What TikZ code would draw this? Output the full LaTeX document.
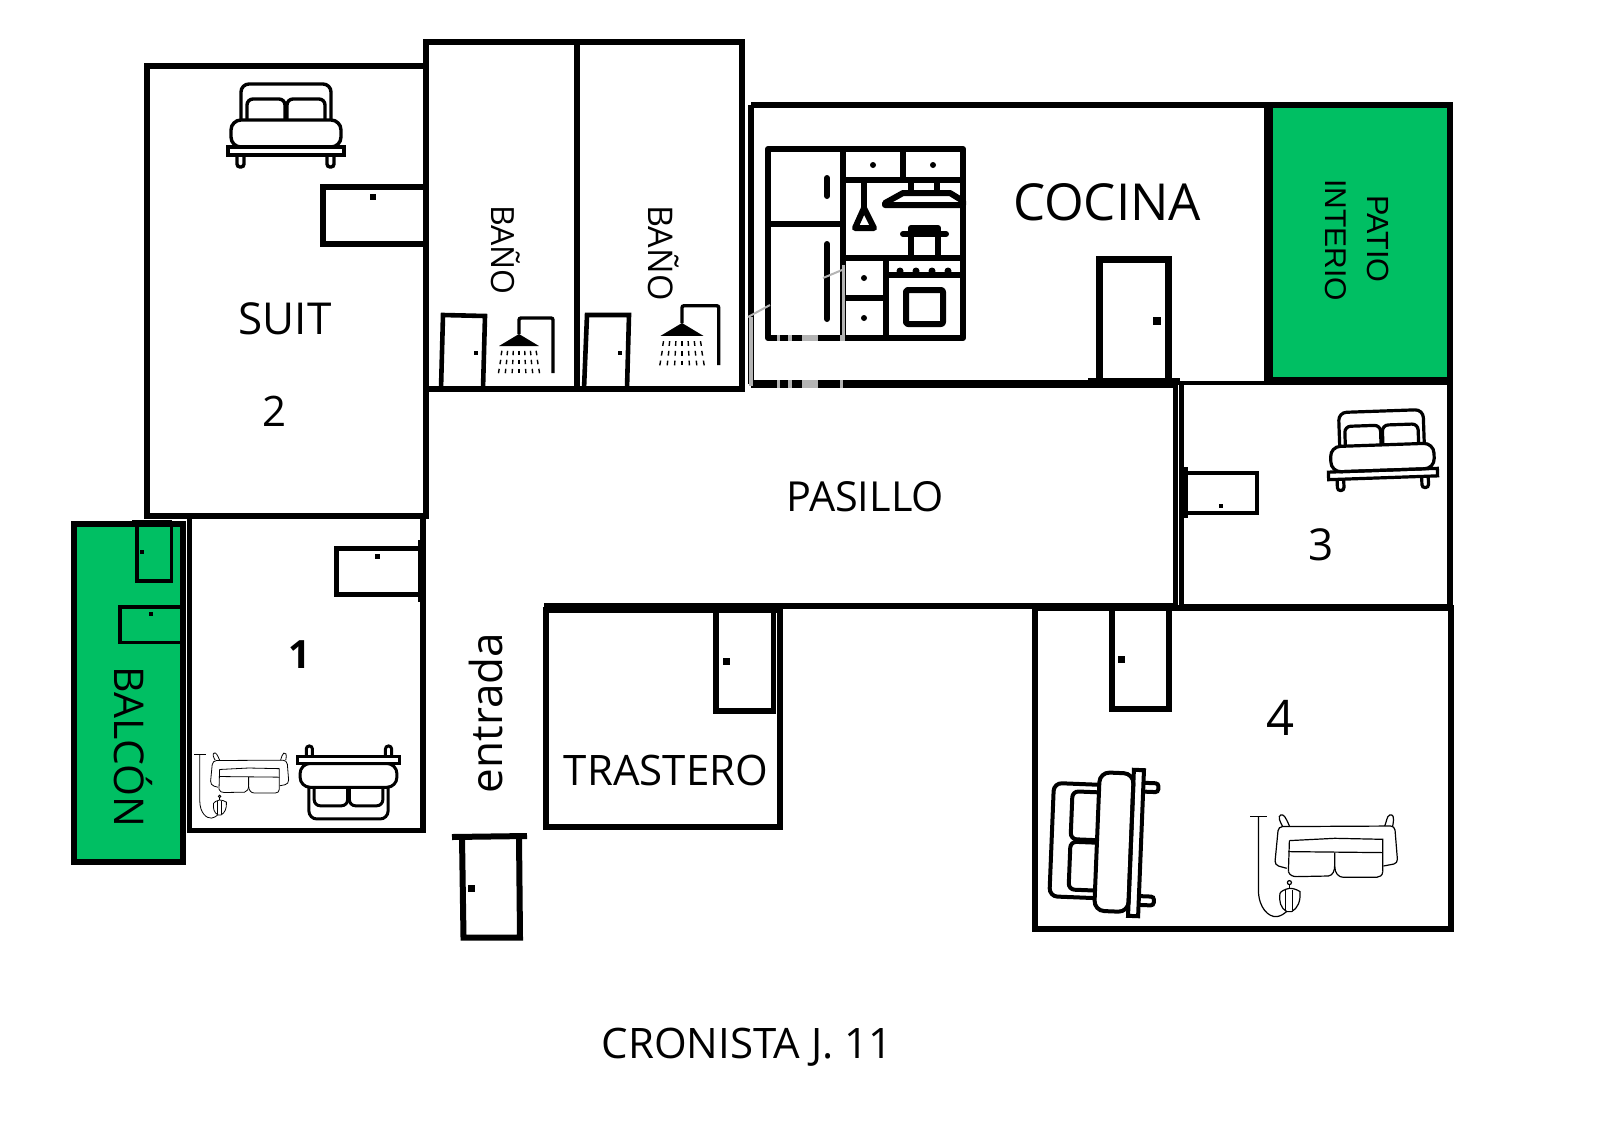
\documentclass[tikz,border=0pt]{standalone}
\usepackage{fontspec}
\setmainfont{Open Sans}
\newfontfamily\patiofont{Liberation Sans}
\definecolor{patiogreen}{HTML}{00BF63}
\definecolor{faded}{HTML}{B4B4B4}
\newcommand{\doorknob}[3]{\fill ({#1-#3/2},{#2-#3/2}) rectangle ({#1+#3/2},{#2+#3/2});}
\tikzset{
  wall/.style={line width=2.6pt},
  doorline/.style={line width=#1},
  doorline/.default=2.6pt,
  roomlabel/.style={inner sep=0pt, font=\fontsize{#1}{#1}\selectfont},
  patiolabel/.style={inner sep=0pt, rotate=-90, font=\patiofont\fontsize{#1}{#1}\selectfont},
  icon/.style={line width=3pt, line join=round},
  watermark/.style={draw=faded, line width=#1},
  pics/bedicon/.style={code={
    % headboard and pillows
    \draw[rounded corners=4pt] (-45,-31) -- (-45,-67) -- (45,-67) -- (45,-31);
    \draw[rounded corners=3pt] (-39,-31) -- (-39,-52) -- (-1,-52) -- (-1,-31);
    \draw[rounded corners=3pt] (1,-31) -- (1,-52) -- (39,-52) -- (39,-31);
    % mattress and base
    \draw[rounded corners=5pt] (-55,-31) rectangle (55,-4);
    \draw (-58,-4) rectangle (58,4);
    % legs
    \draw[rounded corners=1.5pt] (-49,4) -- (-49,16) -- (-42,16) -- (-42,4);
    \draw[rounded corners=1.5pt] (41,4) -- (41,16) -- (48,16) -- (48,4);
  }},
  pics/showericon/.style={code={
    \fill (-20,12) -- (0,0) -- (20,12) -- cycle;
    \draw[line width=1.7pt, rounded corners=1pt] (0,0) -- (0,-16) -- (34,-16) -- (34,39);
    % drops
    \foreach \dx in {-3,...,3} {
      \foreach \yy/\sp in {19/5.7,28/6.1,37/6.6} {
        \draw[line width=0.7pt] ({\dx*\sp},{\yy-2.2}) -- ({\dx*\sp+\dx*0.25},{\yy+2.2});
      }
    }
  }},
  pics/sofalamp/.style={code={
    % lamp
    \draw (3.3,3.3) -- (20.7,3.3);
    \draw (11.7,3.3) -- (11.7,77) .. controls (12,95) and (22,104) .. (30,103.3) .. controls (34,103) and (38,100) .. (40,98);
    \draw (42.7,69.3) circle (2);
    \draw (42.7,71.3) -- (42.7,75);
    \draw (42.7,75) .. controls (38,76) and (34,78) .. (33.3,80) .. controls (32,88) and (34,95) .. (40,98.3) -- (45,98.3) .. controls (51,95) and (54,88) .. (53.3,78.3) .. controls (50,76) and (46,75) .. (42.7,75);
    \draw (39,77) -- (39,97) (46,77) -- (46,97);
    % sofa
    \draw[rounded corners=2pt] (40,55) -- (28,51.7) -- (31.7,13.3) -- (148,12.7) -- (151,50) -- (136.7,52.7);
    \draw (42.7,27.3) -- (88,25) -- (136,26) -- (136,58.3);
    \draw (42.7,27.3) -- (41.7,58.3);
    \draw (41.7,38.3) -- (136,39.3);
    \draw (41.7,58.3) .. controls (43,62) and (46,63.3) .. (50,63.3) -- (81.7,62.7) .. controls (86,62) and (88,58) .. (88,51.7) -- (88,39.3);
    \draw (88,53) .. controls (88,60) and (92,64) .. (96.7,64) -- (130,64) .. controls (133,64) and (136,62) .. (136,58.3);
    % horns
    \draw (35.7,12.7) .. controls (33,8) and (31,3) .. (34,1.7) .. controls (37,0.5) and (39,4) .. (42.7,12.7);
    \draw (138,12.7) .. controls (140,8) and (140,3) .. (143,1.7) .. controls (146,1) and (148,2) .. (146,12.7);
  }}
}
\begin{document}
\begin{tikzpicture}[x=0.5pt,y=-0.5pt]
    \useasboundingbox (0,0) rectangle (1600,1131);

    % Green areas
    \fill[patiogreen] (1268,105) rectangle (1450,381);
    \fill[patiogreen] (74,524) rectangle (183,862);

    % Suit and the two bathrooms
    \draw[wall] (147,66) rectangle (426,516);
    \draw[wall] (426,42) -- (742,42) -- (742,389) -- (426,389) -- cycle;
    \draw[wall] (577,42) -- (577,389);

    % Kitchen and patio
    \draw[wall] (751,105) -- (1450,105) -- (1450,381);
    \draw[wall] (751,105) -- (751,384);
    \draw[line width=4pt] (751,384) -- (1178,384);
    \draw[line width=4.5pt] (1268.5,105) -- (1268.5,381);
    \draw[line width=4pt] (1266,381) -- (1452,381);

    % Corridor
    \draw[line width=2.5pt] (1175,384) -- (1175,607);
    \draw[line width=3.4pt] (544,606) -- (1178,606);

    % Room 3 and room 4
    \draw[wall] (1181.5,607) -- (1450,607) -- (1450,381);
    \draw[line width=2.1pt] (1181.5,608) -- (1181.5,383) -- (1450,383);
    \draw[wall] (1035,608) rectangle (1451,929);

    % Storeroom
    \draw[wall] (546,610) rectangle (780,827);

    % Room 1 and balcony
    \draw[wall] (189.5,516) -- (189.5,830.5) -- (423,830.5) -- (423,516);
    \draw[wall] (74,524) rectangle (183,862);

    % Doors
    \draw[doorline=3pt] (423,187) -- (323,187) -- (323,244) -- (423,244);
    \doorknob{373}{197}{6}
    \draw[doorline=2.4pt] (423,548.5) -- (336.5,548.5) -- (336.5,594.5) -- (423,594.5);
    \draw[doorline=2.5pt] (420,540) -- (420,602);
    \doorknob{377}{556}{5}
    \draw[doorline=1.9pt] (137,522) -- (137,581) -- (171.5,581) -- (171.5,522);
    \draw[doorline=1.9pt] (132,522) -- (172,522);
    \doorknob{142}{552}{3.5}
    \draw[doorline=1.9pt] (181,607) -- (120,607) -- (120,642.5) -- (181,642.5);
    \doorknob{151}{614}{3.5}
    \draw[doorline=2.3pt] (441,389) -- (443,315) -- (485,316) -- (483,389);
    \doorknob{476}{353}{4.5}
    \draw[doorline=2.3pt] (584,389) -- (587,315) -- (629,315) -- (627,389);
    \doorknob{620}{353}{4.5}
    \draw[doorline=3.4pt] (1099.5,380) -- (1099.5,259.5) -- (1168.5,259.5) -- (1168.5,380);
    \draw[doorline=3.4pt] (1088,381.5) -- (1180,381.5);
    \doorknob{1157}{321}{8}
    \draw[doorline=2pt] (1186,473) -- (1257,473) -- (1257,513) -- (1186,513);
    \draw[doorline=2.2pt] (1186,467) -- (1186,518);
    \doorknob{1221}{506}{4}
    \draw[doorline=3pt] (1112,608) -- (1112,709) -- (1169,709) -- (1169,608);
    \doorknob{1121}{659}{7}
    \draw[doorline=2.8pt] (716,610) -- (716,711) -- (773.5,711) -- (773.5,610);
    \draw[doorline=2.4pt] (708,611) -- (782,611);
    \doorknob{726}{661}{7}
    \draw[doorline=3pt] (452,837) -- (527,836);
    \draw[doorline=3pt] (462,837) -- (463.5,937.5) -- (520,937.5) -- (519,836);
    \doorknob{471}{888}{7}

    % Kitchen units
    \begin{scope}[icon]
        \draw (768,149) rectangle (963,338);
        \draw (843,149) -- (843,338);
        \draw (768,224) -- (843,224);
        \draw[line cap=round] (827,178) -- (827,196);
        \draw[line cap=round] (827,244) -- (827,319);
        \draw (843,180) -- (963,180);
        \draw (903,149) -- (903,180);
        \fill (873,165) circle (3);
        \fill (933,165) circle (3);
        \draw (911,180) -- (911,193);
        \draw (937,180) -- (937,193);
        \draw (885,203) -- (903,193) -- (950,193) -- (963,201) -- (963,205) -- (885,205) -- cycle;
        \draw (864,180) -- (864,208);
        \draw (855,228) -- (864,208) -- (874,228) -- cycle;
        \draw (843,258) -- (963,258);
        \draw (886,258) -- (886,338);
        \draw (843,298) -- (886,298);
        \fill (864,278) circle (3);
        \fill (864,318) circle (3);
        \draw (886,275) -- (963,275);
        \foreach \bx in {900,916,932,948} {
            \fill (\bx,271) circle (3.5);
        }
        \draw[rounded corners=1pt] (906,290) rectangle (943,324);
        \draw (911,258) -- (911,228) -- (938,228) -- (938,258);
        \draw[line cap=round] (903,234) -- (946,234);
    \end{scope}

    % Beds
    \pic[line width=1.7pt] at (286,151) {bedicon};
    \pic[line width=1.5pt, rotate=180, scale=0.88] at (348.5,760) {bedicon};
    \pic[line width=1.6pt, rotate=2, scale=0.94] at (1383,474) {bedicon};
    \pic[line width=2pt, rotate=87.7, scale=1.26] at (1136,843) {bedicon};

    % Showers
    \pic at (519,334) {showericon};
    \pic[scale=1.08] at (682,323) {showericon};

    % Sofas with lamp
    \pic[line width=0.6pt] at (1246.7,813.3) {sofalamp};
    \pic[line width=0.4pt, scale=0.64] at (192.3,752) {sofalamp};

    % Worn parts of the lines
    \draw[watermark=1.8pt] (751,317) -- (751,386);
    \draw[watermark=1.5pt] (843,265) -- (843,341);
    \foreach \gx/\gw in {778/3,790/4,810/16,841/3} {
        \fill[faded] ({\gx-\gw/2},380) rectangle ({\gx+\gw/2},388);
        \fill[faded] ({\gx-\gw/2},335) rectangle ({\gx+\gw/2},341);
    }
    \draw[watermark=1pt] (748,317) -- (770,305);
    \draw[watermark=1pt] (823,278) -- (842,270);

    % Labels
    \node[roomlabel=22] (suit) at (285,319) {SUIT};
    \node[roomlabel=21] (room2) at (275,411) {2};
    \node[roomlabel=16, rotate=-90] (bath1) at (506,250) {BAÑO};
    \node[roomlabel=17, rotate=-90] (bath2) at (664,253) {BAÑO};
    \node[roomlabel=25.5] (kitchen) at (1107,202) {COCINA};
    \node[patiolabel=15.3] (patio) at (1378,239) {PATIO};
    \node[patiolabel=15] (interior) at (1335.5,240) {INTERIO};
    \node[roomlabel=20.7] (corridor) at (865,497) {PASILLO};
    \node[roomlabel=22] (room3) at (1321,545) {3};
    \node[roomlabel=19.5, font=\bfseries\fontsize{19.5}{19.5}\selectfont] (room1) at (300,655) {1};
    \node[roomlabel=20.5, rotate=-90] (balcony) at (133,747) {BALCÓN};
    \node[roomlabel=22, rotate=90] (entry) at (486,713) {entrada};
    \node[roomlabel=21] (store) at (666,770) {TRASTERO};
    \node[roomlabel=24.5] (room4) at (1280,718) {4};
    \node[roomlabel=21] (address) at (747,1047) {CRONISTA J. 11};
\end{tikzpicture}
\end{document}
